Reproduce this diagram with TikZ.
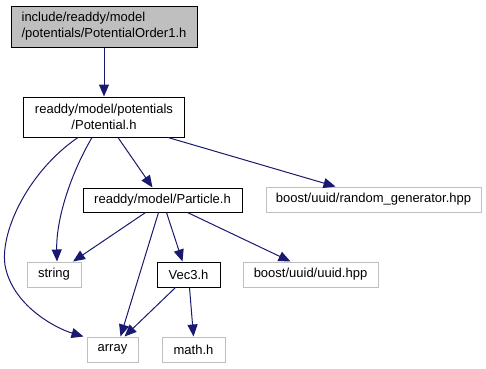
\documentclass[tikz,border=0pt]{standalone}
\usepackage{fontspec}
\setmainfont{Liberation Sans}
\usetikzlibrary{arrows.meta}

\definecolor{kante}{HTML}{191970}
\definecolor{grau}{HTML}{BFBFBF}

\tikzset{
    datei/.style={draw=black, line width=1pt, inner sep=0pt, font=\fontsize{13}{16}\selectfont},
    extern/.style={datei, draw=grau},
    pfeil/.style={draw=kante, line width=1pt, -{Triangle[length=12pt,width=10pt]}}
}

\begin{document}
\begin{tikzpicture}[x=1pt, y=-1pt]
    \useasboundingbox (0,0) rectangle (486,368);

    % Dateien
    \node[datei, fill=grau, minimum width=186pt, minimum height=41pt, align=left] (order) at (104,26.5)
        {include/readdy/model\\/potentials/PotentialOrder1.h};
    \node[datei, minimum width=161pt, minimum height=40pt, align=center] (pot) at (104,117)
        {readdy/model/potentials\\/Potential.h};
    \node[datei, minimum width=159pt, minimum height=24pt] (part) at (162.5,200) {readdy/model/Particle.h};
    \node[extern, minimum width=215pt, minimum height=25pt] (rand) at (373.5,199.5) {boost/uuid/random\_generator.hpp};
    \node[extern, minimum width=54pt, minimum height=25pt] (str) at (54,274.5) {string};
    \node[datei, minimum width=63pt, minimum height=25pt] (vec) at (188.5,274.5) {Vec3.h};
    \node[extern, minimum width=135pt, minimum height=25pt] (uuid) at (310.5,274.5) {boost/uuid/uuid.hpp};
    \node[extern, minimum width=51pt, minimum height=25pt] (arr) at (112.5,349.5) {array};
    \node[extern, minimum width=63pt, minimum height=25pt] (math) at (193.5,349.5) {math.h};

    % Abhaengigkeiten
    \draw[pfeil] (order) -- (pot);
    \draw[pfeil] ([xshift=-26pt]pot.south) .. controls (30,170) and (0,230) .. (5,265)
        .. controls (12,305) and (55,328) .. ([xshift=-29pt]arr.north);
    \draw[pfeil] ([xshift=-12pt]pot.south) .. controls (70,175) and (56,220) .. ([xshift=3pt]str.north);
    \draw[pfeil] ([xshift=14pt]pot.south) -- ([xshift=-10pt]part.north);
    \draw[pfeil] ([xshift=64pt]pot.south) -- ([xshift=-38pt]rand.north);
    \draw[pfeil] ([xshift=-17pt]part.south) -- ([xshift=19pt]str.north);
    \draw[pfeil] ([xshift=-4pt]part.south) -- ([xshift=8pt]arr.north);
    \draw[pfeil] ([xshift=4pt]part.south) -- ([xshift=-6pt]vec.north);
    \draw[pfeil] ([xshift=25pt]part.south) -- ([xshift=-20pt]uuid.north);
    \draw[pfeil] ([xshift=-13pt]vec.south) -- ([xshift=12pt]arr.north);
    \draw[pfeil] ([xshift=1pt]vec.south) -- ([xshift=0pt]math.north);
\end{tikzpicture}
\end{document}
